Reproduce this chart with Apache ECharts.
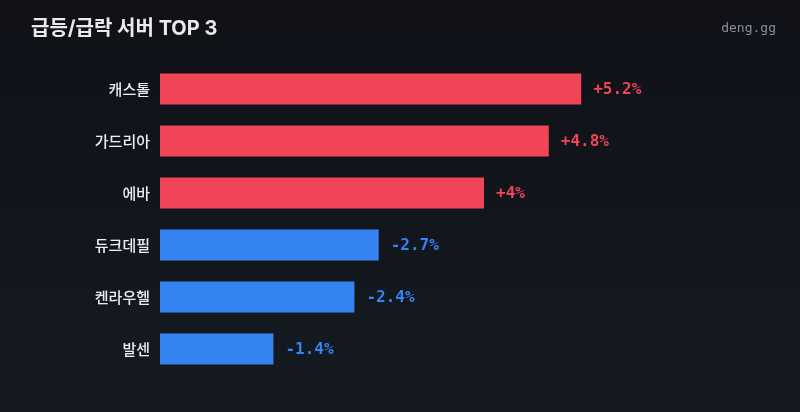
<!DOCTYPE html>
<html>
<head>
<meta charset="utf-8">
<script src="https://cdn.jsdelivr.net/npm/echarts@6/dist/echarts.min.js"></script>
<style>
  html, body { margin: 0; padding: 0; }
  #chart { width: 800px; height: 412px; }
</style>
</head>
<body>
<div id="chart"></div>
<script>
  var servers = ['캐스톨', '가드리아', '에바', '듀크데필', '켄라우헬', '발센'];
  var changes = [5.2, 4.8, 4, -2.7, -2.4, -1.4];

  var upColor = '#f04556';
  var downColor = '#3584f2';

  var barData = [];
  for (var i = 0; i < servers.length; i++) {
    var v = changes[i];
    barData.push({
      value: Math.abs(v),
      change: v,
      itemStyle: { color: v >= 0 ? upColor : downColor },
      label: { color: v >= 0 ? upColor : downColor }
    });
  }

  var chart = echarts.init(document.getElementById('chart'));
  var option = {
    backgroundColor: {
      type: 'linear', x: 0, y: 0, x2: 0, y2: 1,
      colorStops: [
        { offset: 0, color: '#0f1117' },
        { offset: 1, color: '#151a21' }
      ]
    },
    title: {
      text: '급등/급락 서버 TOP 3',
      left: 26,
      top: 14,
      textStyle: {
        color: '#e8eaee',
        fontSize: 20,
        fontWeight: 'bold',
        fontFamily: 'Inter, "Noto Sans CJK KR", sans-serif'
      }
    },
    graphic: [{
      type: 'text',
      right: 24,
      top: 22,
      style: {
        text: 'deng.gg',
        fill: '#8a909b',
        font: '13px "DejaVu Sans Mono", monospace'
      }
    }],
    grid: {
      left: 160,
      right: 154,
      top: 63,
      bottom: 37
    },
    xAxis: {
      type: 'value',
      min: 0,
      max: 6,
      show: false
    },
    yAxis: {
      type: 'category',
      data: servers,
      inverse: true,
      axisLine: { show: false },
      axisTick: { show: false },
      splitLine: { show: false },
      axisLabel: {
        color: '#eceef2',
        fontSize: 15,
        fontWeight: 500,
        margin: 10,
        fontFamily: '"Noto Sans CJK KR", sans-serif'
      }
    },
    series: [{
      type: 'bar',
      data: barData,
      barWidth: 31,
      animation: false,
      label: {
        show: true,
        position: 'right',
        distance: 12,
        offset: [0, 1],
        fontSize: 16,
        fontWeight: 'bold',
        fontFamily: '"DejaVu Sans Mono", monospace',
        formatter: function (p) {
          var c = p.data.change;
          return (c > 0 ? '+' : '') + c + '%';
        }
      }
    }]
  };
  chart.setOption(option);
</script>
</body>
</html>
